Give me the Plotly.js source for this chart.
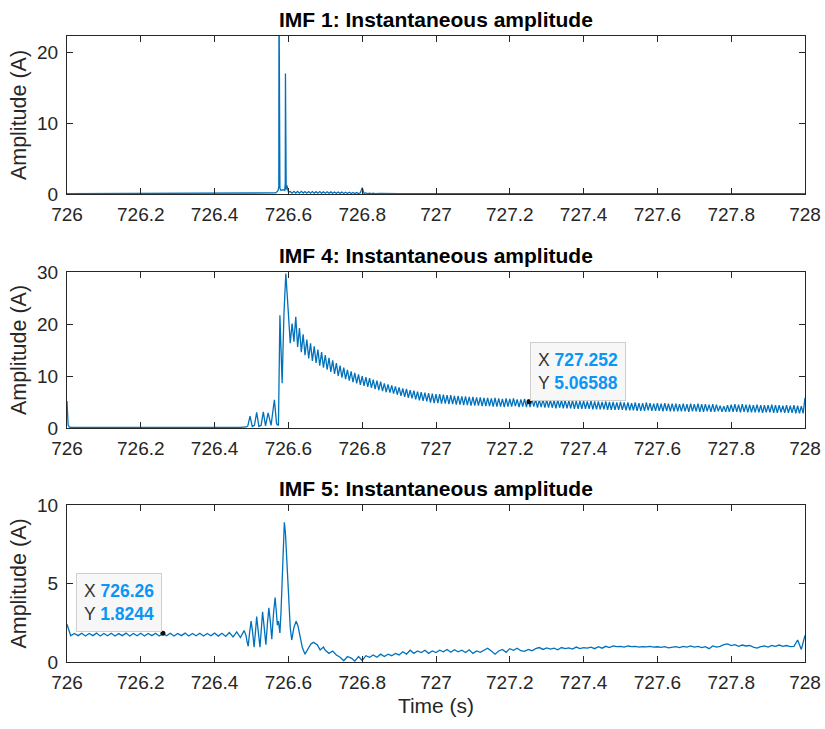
<!DOCTYPE html>
<html>
<head>
<meta charset="utf-8">
<script src="https://cdn.plot.ly/plotly-3.0.1.min.js"></script>
<style>html,body{margin:0;padding:0;background:#fff;}#chart{width:825px;height:729px;}</style>
</head>
<body>
<div id="chart"></div>
<script>
// ---------- tick labels ----------
const xTickVals = [726, 726.2, 726.4, 726.6, 726.8, 727, 727.2, 727.4, 727.6, 727.8, 728];
const xTickText = ['726', '726.2', '726.4', '726.6', '726.8', '727', '727.2', '727.4', '727.6', '727.8', '728'];
const y1Ticks = [0, 10, 20];
const y2Ticks = [0, 10, 20, 30];
const y3Ticks = [0, 5, 10];

// ---------- IMF 1 ----------
const t1Head = [726.000, 726.100, 726.200, 726.300, 726.400, 726.500, 726.550, 726.566, 726.572, 726.5740, 726.5745, 726.5750, 726.5760, 726.5765, 726.5770, 726.5800, 726.5850, 726.5900, 726.5915, 726.5920, 726.5925, 726.5940, 726.5960, 726.5980, 726.6000];
const a1Head = [0.04, 0.05, 0.04, 0.05, 0.04, 0.05, 0.07, 0.15, 0.5, 1.0, 30, 2.0, 1.0, 17.6, 0.8, 0.5, 0.6, 0.5, 1.5, 17.0, 1.2, 0.6, 1.2, 0.5, 0.3];
const t1RipStart = 726.605, t1RipStep = 0.005;
const a1Rip = [
  0.35,0.12,0.38,0.14,0.36,0.12,0.37,0.13,0.35,0.12,
  0.34,0.12,0.35,0.11,0.33,0.12,0.34,0.10,0.32,0.11,
  0.31,0.10,0.30,0.10,0.29,0.09,0.28,0.09,0.27,0.08,
  0.25,0.08,0.24,0.07,0.22,0.07,0.20,0.06,0.18,0.9,
  0.06,0.15,0.06,0.13,0.06,0.11,0.05,0.09,0.05,0.07];
const t1Base = [726.9, 727.0, 727.2, 727.4, 727.6, 727.8, 728.0];
const a1Base = [0.06, 0.05, 0.05, 0.04, 0.05, 0.04, 0.05];

// ---------- IMF 4 ----------
const t4Head = [726.000, 726.0015, 726.003, 726.006, 726.010, 726.1, 726.2, 726.3, 726.4, 726.47, 726.486, 726.490, 726.496, 726.502, 726.508, 726.514, 726.520, 726.526, 726.532, 726.538, 726.545, 726.553, 726.562, 726.568, 726.573, 726.577, 726.583, 726.588, 726.593, 726.597];
const a4Head = [5.2, 2.0, 0.6, 0.2, 0.1, 0.1, 0.08, 0.1, 0.1, 0.12, 0.2, 0.4, 2.3, 0.3, 0.5, 3.0, 0.3, 0.5, 3.1, 0.4, 2.9, 0.5, 5.4, 0.8, 0.5, 21.7, 8.6, 22.0, 29.7, 26.0];
const t4TailStart = 726.600, t4TailStep = 0.005;
const a4Tail = [
  22.0,16.3,20.1,16.6,21.4,15.6,19.2,14.6,18.0,14.0,
  17.0,13.4,16.3,12.9,15.7,12.5,15.1,12.0,14.6,11.6,
  14.0,11.2,13.5,10.8,13.0,10.4,12.5,10.0,12.0,9.7,
  11.6,9.4,11.2,9.1,10.9,8.8,10.6,8.6,10.3,8.3,
  10.0,8.1,9.8,7.9,9.6,7.7,9.3,7.5,9.1,7.3,
  8.9,7.1,8.6,6.9,8.4,6.8,8.2,6.6,8.0,6.4,
  7.8,6.2,7.6,6.0,7.5,5.8,7.3,5.7,7.2,5.5,
  7.0,5.3,6.9,5.2,6.8,5.1,6.7,4.9,6.6,4.8,
  6.5,4.8,6.5,4.7,6.4,4.7,6.3,4.6,6.3,4.6,
  6.2,4.5,6.2,4.5,6.1,4.4,6.1,4.4,6.0,4.3,
  6.0,4.3,5.9,4.3,5.9,4.2,5.8,4.2,5.8,4.2,
  5.7,4.1,5.8,4.1,5.7,4.1,5.6,4.0,5.7,4.1,
  5.6,4.1,5.7,4.2,5.5,4.0,5.5,4.1,5.6,4.0,
  5.5,4.0,5.6,4.1,5.5,3.9,5.4,4.0,5.5,3.9,
  5.4,3.9,5.4,3.9,5.3,3.8,5.4,3.9,5.3,3.8,
  5.3,3.8,5.2,3.8,5.3,3.7,5.2,3.7,5.2,3.7,
  5.2,3.7,5.1,3.7,5.2,3.6,5.1,3.6,5.1,3.6,
  5.0,3.6,5.1,3.5,5.0,3.5,5.0,3.5,4.9,3.5,
  5.0,3.5,4.9,3.4,4.9,3.4,4.8,3.4,4.9,3.3,
  4.8,3.3,4.8,3.3,4.9,3.4,4.8,3.3,4.7,3.3,
  4.8,3.3,4.7,3.2,4.8,3.3,4.7,3.2,4.7,3.2,
  4.7,3.2,4.6,3.2,4.7,3.2,4.6,3.1,4.7,3.2,
  4.6,3.2,4.7,3.1,4.6,3.1,4.6,3.2,4.5,3.1,
  4.6,3.1,4.5,3.2,4.3,3.1,4.2,3.1,4.4,3.1,
  4.5,3.1,4.6,3.1,4.5,3.0,4.6,3.1,4.5,3.0,
  4.5,3.0,4.4,3.0,4.5,3.0,4.4,2.9,4.4,3.0,
  4.4,3.0,4.5,2.9,4.4,2.9,4.4,3.0,4.3,2.9,
  4.4,2.9,4.3,2.9,4.4,2.8,4.3,2.8,4.2,2.8,
  5.8];

// ---------- IMF 5 ----------
const t5PreStart = 726.00, t5PreStep = 0.01;
const a5Pre = [
  2.4,
  1.67,1.82,1.68,1.83,1.66,1.82,1.68,1.84,1.66,
  1.82,1.67,1.83,1.66,1.81,1.68,1.84,1.66,1.82,1.67,
  1.83,1.66,1.82,1.68,1.83,1.66,1.82,1.67,1.83,1.66,
  1.82,1.68,1.84,1.66,1.82,1.67,1.83,1.66,1.82,1.67,
  1.84,1.65,1.83,1.63,1.88,1.60,1.92,1.56,2.0];
const t5Mid = [726.485, 726.488, 726.491, 726.495, 726.499, 726.503, 726.507, 726.511, 726.514, 726.518, 726.523, 726.527, 726.530, 726.534, 726.539, 726.543, 726.547, 726.551, 726.555, 726.560, 726.564, 726.567, 726.570, 726.573, 726.577, 726.580, 726.583, 726.586, 726.589, 726.592, 726.595, 726.600, 726.605, 726.609, 726.615, 726.621, 726.626, 726.631, 726.638, 726.645, 726.654, 726.661, 726.668, 726.678, 726.686, 726.695];
const a5Mid = [1.7, 1.3, 1.0, 1.9, 2.6, 1.9, 0.95, 2.0, 2.9, 2.0, 0.95, 2.2, 3.2, 2.3, 1.1, 2.4, 3.45, 2.6, 1.45, 3.2, 4.1, 3.3, 2.35, 2.6, 1.85, 3.2, 5.5, 7.9, 8.9, 8.2, 6.6, 4.0, 2.2, 1.4, 2.2, 2.6, 2.3, 1.7, 0.9, 0.5, 0.9, 1.15, 1.25, 1.1, 0.77, 0.95];
const t5PostStart = 726.70, t5PostStep = 0.01;
const a5Post = [
  0.75,0.55,0.70,0.45,0.30,0.08,0.35,0.25,0.06,0.35,
  0.10,0.40,0.30,0.45,0.30,0.50,0.35,0.50,0.40,0.55,
  0.45,0.65,0.50,0.75,0.55,0.70,0.60,0.75,0.55,0.70,
  0.60,0.75,0.65,0.80,0.62,0.78,0.65,0.75,0.60,0.78,
  0.55,0.70,0.62,0.75,0.88,0.70,0.50,0.70,0.80,0.62,
  0.85,0.75,0.88,0.72,0.68,0.80,0.72,0.85,0.92,0.80,
  0.90,0.82,0.88,0.78,0.92,0.85,0.90,0.82,0.95,0.85,
  0.92,0.88,0.95,0.85,0.98,0.88,1.00,0.92,1.02,0.98,
  1.00,0.95,1.02,0.98,1.00,0.95,0.98,0.96,1.00,0.95,
  0.97,0.93,0.98,0.90,0.95,0.98,0.92,1.00,0.95,1.02,
  0.95,1.00,0.92,0.98,0.85,1.02,0.95,1.00,1.10,1.15,
  1.05,1.10,1.00,1.08,1.02,1.05,0.95,0.88,0.98,1.02,
  0.95,1.05,1.00,1.08,1.00,1.05,0.98,1.00,1.40,0.80,
  1.70];

// ---------- data tips ----------
const tip4 = {x: 727.252, y: 5.06588, xs: '727.252', ys: '5.06588'};
const tip5 = {x: 726.26, y: 1.8244, xs: '726.26', ys: '1.8244'};

// ---------- helpers ----------
function grid(start, step, n) {
  const out = [];
  for (let i = 0; i < n; i++) out.push(Math.round((start + i * step) * 1e6) / 1e6);
  return out;
}
const t1 = t1Head.concat(grid(t1RipStart, t1RipStep, a1Rip.length), t1Base);
const a1 = a1Head.concat(a1Rip, a1Base);
const t4 = t4Head.concat(grid(t4TailStart, t4TailStep, a4Tail.length));
const a4 = a4Head.concat(a4Tail);
const t5 = grid(t5PreStart, t5PreStep, a5Pre.length).concat(t5Mid, grid(t5PostStart, t5PostStep, a5Post.length));
const a5 = a5Pre.concat(a5Mid, a5Post);

const lineColor = '#0072BD';
const axisColor = '#262626';
const FONT = 'Liberation Sans, Arial, Helvetica, sans-serif';

const traces = [
  {x: t1, y: a1, xaxis: 'x', yaxis: 'y', type: 'scatter', mode: 'lines', line: {color: lineColor, width: 1.3}, hoverinfo: 'skip'},
  {x: t4, y: a4, xaxis: 'x2', yaxis: 'y2', type: 'scatter', mode: 'lines', line: {color: lineColor, width: 1.3}, hoverinfo: 'skip'},
  {x: t5, y: a5, xaxis: 'x3', yaxis: 'y3', type: 'scatter', mode: 'lines', line: {color: lineColor, width: 1.3}, hoverinfo: 'skip'},
  {x: [tip4.x], y: [tip4.y], xaxis: 'x2', yaxis: 'y2', type: 'scatter', mode: 'markers', marker: {color: '#111', size: 5}},
  {x: [tip5.x], y: [tip5.y], xaxis: 'x3', yaxis: 'y3', type: 'scatter', mode: 'markers', marker: {color: '#111', size: 5}}
];

function xax(anchor, withTitle) {
  const a = {
    anchor: anchor, domain: [0, 1], range: [726, 728],
    tickmode: 'array', tickvals: xTickVals, ticktext: xTickText,
    showline: true, mirror: 'ticks', linecolor: axisColor, linewidth: 1,
    ticks: 'inside', ticklen: 6, tickcolor: axisColor, tickwidth: 1,
    showgrid: false, zeroline: false,
    tickfont: {family: FONT, size: 19, color: axisColor},
    ticklabelstandoff: 3
  };
  if (withTitle) a.title = {text: 'Time (s)', font: {family: FONT, size: 21, color: axisColor}, standoff: 6};
  return a;
}
function yax(anchor, domain, range, ticks) {
  return {
    anchor: anchor, domain: domain, range: range,
    tickmode: 'array', tickvals: ticks,
    showline: true, mirror: 'ticks', linecolor: axisColor, linewidth: 1,
    ticks: 'inside', ticklen: 6, tickcolor: axisColor, tickwidth: 1,
    showgrid: false, zeroline: false,
    tickfont: {family: FONT, size: 19, color: axisColor},
    ticklabelstandoff: 4,
    title: {text: 'Amplitude (A)', font: {family: FONT, size: 21.5, color: axisColor}, standoff: 4}
  };
}

function panelTitle(xr, yr, txt) {
  return {text: '<b>' + txt + '</b>', xref: xr + ' domain', yref: yr + ' domain', x: 0.5, y: 1,
    xanchor: 'center', yanchor: 'bottom', yshift: 3, showarrow: false,
    font: {family: FONT, size: 21, color: '#000'}};
}
function tipText(t) {
  return 'X <span style="color:#0A96F5"><b>' + t.xs + '</b></span><br>Y <span style="color:#0A96F5"><b>' + t.ys + '</b></span>';
}

const layout = {
  width: 825, height: 729,
  margin: {l: 67, r: 20, t: 36, b: 67},
  paper_bgcolor: '#ffffff', plot_bgcolor: '#ffffff',
  showlegend: false,
  font: {family: FONT, size: 19, color: axisColor},
  xaxis: xax('y', false),
  yaxis: yax('x', [0.7476, 1], [0, 22.3], y1Ticks),
  xaxis2: xax('y2', false),
  yaxis2: yax('x2', [0.3738, 0.623], [0, 30], y2Ticks),
  xaxis3: xax('y3', true),
  yaxis3: yax('x3', [0, 0.2508], [0, 10], y3Ticks),
  annotations: [
    panelTitle('x', 'y', 'IMF 1: Instantaneous amplitude'),
    panelTitle('x2', 'y2', 'IMF 4: Instantaneous amplitude'),
    panelTitle('x3', 'y3', 'IMF 5: Instantaneous amplitude'),
    {x: tip4.x, y: tip4.y, xref: 'x2', yref: 'y2', xanchor: 'left', yanchor: 'bottom', xshift: 1, yshift: 1,
     text: tipText(tip4), align: 'left', showarrow: false, bgcolor: '#f7f7f7', bordercolor: '#cfcfcf', borderwidth: 1, borderpad: 7,
     font: {family: FONT, size: 17.5, color: '#333'}},
    {x: tip5.x, y: tip5.y, xref: 'x3', yref: 'y3', xanchor: 'right', yanchor: 'bottom', xshift: -1, yshift: 1,
     text: tipText(tip5), align: 'left', showarrow: false, bgcolor: '#f7f7f7', bordercolor: '#cfcfcf', borderwidth: 1, borderpad: 7,
     font: {family: FONT, size: 17.5, color: '#333'}}
  ]
};

Plotly.newPlot('chart', traces, layout, {displayModeBar: false, staticPlot: true});
</script>
</body>
</html>
